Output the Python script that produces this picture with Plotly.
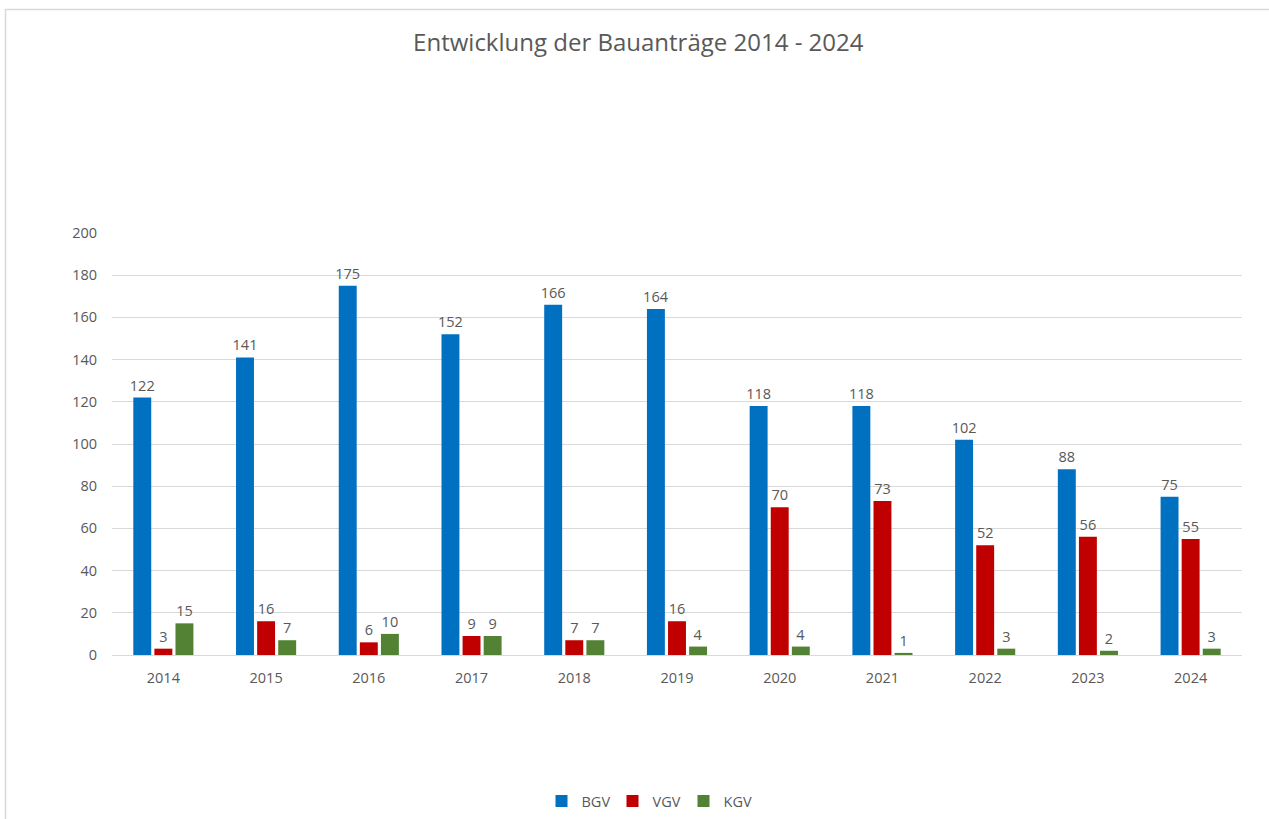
import plotly.graph_objects as go

years = ["2014", "2015", "2016", "2017", "2018", "2019", "2020", "2021", "2022", "2023", "2024"]
bgv = [122, 141, 175, 152, 166, 164, 118, 118, 102, 88, 75]
vgv = [3, 16, 6, 9, 7, 16, 70, 73, 52, 56, 55]
kgv = [15, 7, 10, 9, 7, 4, 4, 1, 3, 2, 3]

series = [("BGV", bgv, "#0070C0"), ("VGV", vgv, "#C00000"), ("KGV", kgv, "#548235")]

FONT = "Open Sans"
TXT = "#595959"

fig = go.Figure()
for name, vals, col in series:
    fig.add_trace(go.Bar(
        x=years, y=vals, name=name,
        marker=dict(color=col, line=dict(width=0)),
        text=[str(v) for v in vals], textposition="outside",
        constraintext="none",
        textfont=dict(family=FONT, size=14.5, color=TXT),
        cliponaxis=False,
    ))

W, H = 1269, 819
ml, mr, mt, mb = 112, 27, 233, 164
pw, ph = W - ml - mr, H - mt - mb

def px2x(px):
    return (px - ml) / pw

def py2y(py):
    return (H - mb - py) / ph

fig.update_layout(
    width=W, height=H,
    margin=dict(l=ml, r=mr, t=mt, b=mb, pad=0, autoexpand=False),
    paper_bgcolor="white", plot_bgcolor="white",
    font=dict(family=FONT, color=TXT, size=14.5),
    title=dict(text="Entwicklung der Bauanträge 2014 - 2024",
               font=dict(family=FONT, size=24, color=TXT),
               x=0.503, xref="container", xanchor="center",
               y=1 - 43 / H, yref="container", yanchor="middle"),
    barmode="group", bargap=0.384, bargroupgap=0.15,
    showlegend=True,
    legend=dict(orientation="h", x=px2x(648), xanchor="center",
                y=1 - 801 / H, yref="container", yanchor="middle",
                itemwidth=30, entrywidth=26,
                font=dict(family=FONT, size=14.5, color=TXT),
                bgcolor="rgba(0,0,0,0)"),
    xaxis=dict(showgrid=False, showline=True, linecolor="#d9d9d9", linewidth=1,
               ticks="", tickfont=dict(family=FONT, size=14.5, color=TXT),
               ticklabelstandoff=10),
    yaxis=dict(range=[0, 200], dtick=20, showgrid=True, gridcolor="#d9d9d9", gridwidth=1,
               zeroline=False, showline=False, ticks="",
               tickfont=dict(family=FONT, size=14.5, color=TXT),
               ticklabelstandoff=14),
    shapes=[
        dict(type="line", xref="paper", yref="paper",
             x0=px2x(5.5), x1=px2x(W + 5), y0=py2y(9.5), y1=py2y(9.5),
             line=dict(color="#d9d9d9", width=1.5)),
        dict(type="line", xref="paper", yref="paper",
             x0=px2x(5.5), x1=px2x(5.5), y0=py2y(9), y1=py2y(H + 5),
             line=dict(color="#d9d9d9", width=1.5)),
    ],
)

fig.write_html("out.html", config={"displayModeBar": False},
               post_script="document.body.style.margin='0px';")
